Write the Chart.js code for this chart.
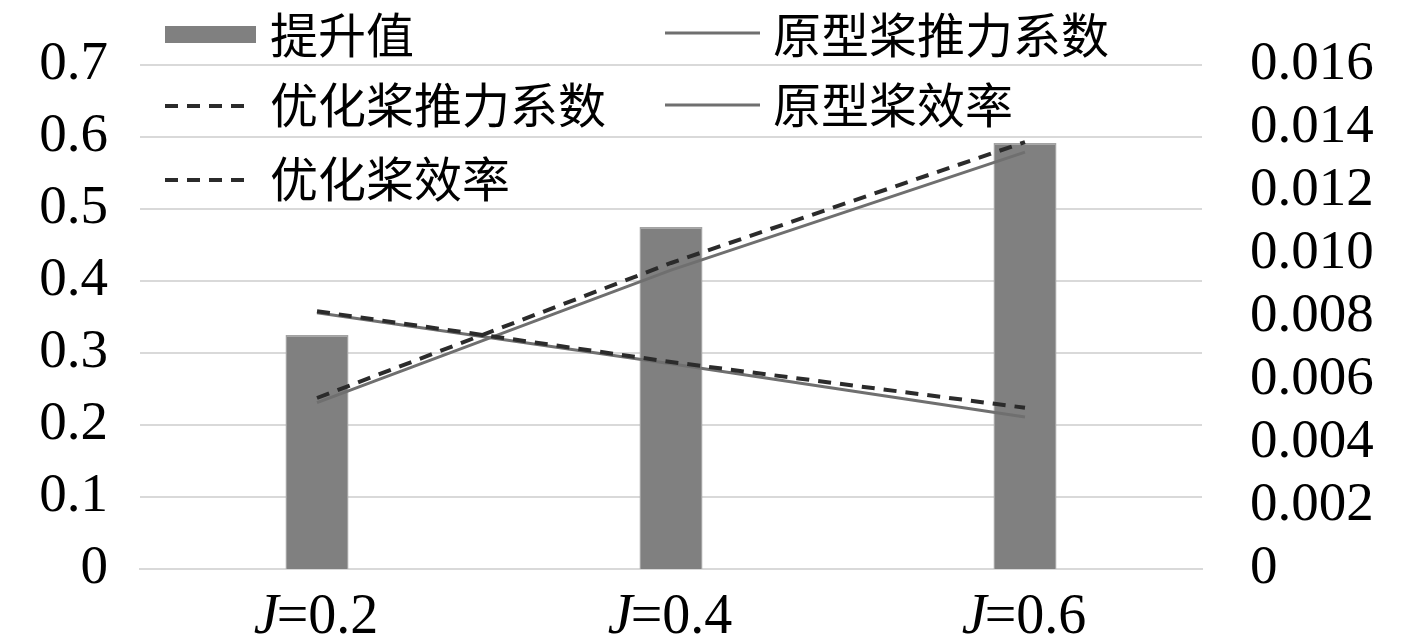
<!doctype html>
<html>
  <head>
    <meta charset="utf-8">
    <title>提升值与推力系数、效率</title>
    <style>
      html, body {
        margin: 0;
        background: #fff;
      }
    </style>
  </head>
  <body>
    <canvas id="canvas" width="1417" height="644"></canvas>

    <script src="https://cdn.jsdelivr.net/npm/chart.js@4/dist/chart.umd.min.js"></script>
    <script>
      // values
      var categories = ['0.2', '0.4', '0.6']   // J
      var improvement = [0.00743, 0.01086, 0.01352]   // right axis
      var protoThrust = [0.356, 0.285, 0.211]
      var optThrust = [0.358, 0.2875, 0.224]
      var protoEff = [0.231, 0.415, 0.579]
      var optEff = [0.2375, 0.425, 0.593]

      var leftTicks = [0, 0.1, 0.2, 0.3, 0.4, 0.5, 0.6, 0.7]
      var rightTicks = [0, 0.002, 0.004, 0.006, 0.008, 0.01, 0.012, 0.014, 0.016]

      var numFont = '"Liberation Serif", "Times New Roman", serif'
      var cjkFont = '"Noto Sans CJK SC", sans-serif'
      var solidGrey = '#6f6f6f'
      var dashDark = '#2b2b2b'
      var dash = [13, 9]

      // legend drawn by hand, Excel style, over the top of the plot
      var legendPlugin = {
        id: 'legendBoxes',
        afterDraw: function(chart) {
          var ctx = chart.ctx
          ctx.save()
          ctx.font = '48px ' + cjkFont
          ctx.fillStyle = '#000'
          ctx.textBaseline = 'middle'
          ctx.textAlign = 'left'

          // bar swatch
          ctx.fillStyle = '#808080'
          ctx.fillRect(165, 26, 91, 17)
          ctx.fillStyle = '#000'
          ctx.fillText('提升值', 270, 35)

          var line = function(x1, x2, y, color, width, pattern) {
            ctx.beginPath()
            ctx.setLineDash(pattern)
            ctx.strokeStyle = color
            ctx.lineWidth = width
            ctx.moveTo(x1, y)
            ctx.lineTo(x2, y)
            ctx.stroke()
          }
          line(665, 760, 33, solidGrey, 3, [])
          ctx.fillText('原型桨推力系数', 773, 35)
          line(165, 253, 106, dashDark, 4, dash)
          ctx.fillText('优化桨推力系数', 270, 105)
          line(665, 760, 105, solidGrey, 3, [])
          ctx.fillText('原型桨效率', 773, 105)
          line(165, 253, 180, dashDark, 4, dash)
          ctx.fillText('优化桨效率', 270, 179)
          ctx.restore()
        }
      }

      // x labels with an italic J
      var xLabelPlugin = {
        id: 'xLabels',
        afterDraw: function(chart) {
          var ctx = chart.ctx
          var xs = chart.scales.x
          ctx.save()
          ctx.fillStyle = '#000'
          ctx.textBaseline = 'alphabetic'
          ctx.textAlign = 'left'
          categories.forEach(function(c, i) {
            var cx = xs.getPixelForValue(i)
            ctx.font = 'italic 56px ' + numFont
            var wj = ctx.measureText('J').width
            ctx.font = '56px ' + numFont
            var rest = '=' + c
            var wr = ctx.measureText(rest).width
            var x0 = cx - (wj + wr) / 2
            ctx.font = 'italic 56px ' + numFont
            ctx.fillText('J', x0, 633)
            ctx.font = '56px ' + numFont
            ctx.fillText(rest, x0 + wj - 2, 633)
          })
          ctx.restore()
        }
      }

      // keep the label overhang from pushing the plot area around
      var noPad = function(scale, w) {
        scale.width = w
        scale.paddingTop = 0
        scale.paddingBottom = 0
      }

      var ctx = document.getElementById('canvas').getContext('2d')
      window.my_chart = new Chart(ctx, {
        type: 'bar',
        data: {
          labels: categories,
          datasets: [
            {
              type: 'line',
              label: '优化桨推力系数',
              data: optThrust,
              yAxisID: 'y',
              borderColor: dashDark,
              borderWidth: 4,
              borderDash: dash,
              pointRadius: 0,
              fill: false,
              order: 0
            },
            {
              type: 'line',
              label: '优化桨效率',
              data: optEff,
              yAxisID: 'y',
              borderColor: dashDark,
              borderWidth: 4,
              borderDash: dash,
              pointRadius: 0,
              fill: false,
              order: 0
            },
            {
              type: 'line',
              label: '原型桨推力系数',
              data: protoThrust,
              yAxisID: 'y',
              borderColor: solidGrey,
              borderWidth: 3,
              pointRadius: 0,
              fill: false,
              order: 1
            },
            {
              type: 'line',
              label: '原型桨效率',
              data: protoEff,
              yAxisID: 'y',
              borderColor: solidGrey,
              borderWidth: 3,
              pointRadius: 0,
              fill: false,
              order: 1
            },
            {
              label: '提升值',
              data: improvement,
              yAxisID: 'y1',
              backgroundColor: '#808080',
              borderColor: '#a3a3a3',
              borderWidth: 1.5,
              categoryPercentage: 1,
              barPercentage: 0.178,
              order: 2
            }
          ]
        },
        options: {
          responsive: false,
          animation: false,
          layout: {
            padding: { top: 65, left: 0, right: 0, bottom: 0 }
          },
          plugins: {
            legend: { display: false },
            tooltip: { enabled: false }
          },
          scales: {
            x: {
              offset: true,
              grid: { display: false, drawTicks: false },
              border: { display: true, color: '#d9d9d9', width: 2 },
              ticks: { display: false },
              afterFit: function(scale) { scale.height = 75 }
            },
            y: {
              position: 'left',
              min: 0,
              max: 0.7,
              afterBuildTicks: function(scale) {
                scale.ticks = leftTicks.map(function(v) { return { value: v } })
              },
              grid: { color: '#d9d9d9', lineWidth: 2, drawTicks: false },
              border: { display: false },
              ticks: {
                autoSkip: false,
                padding: 32,
                color: '#000',
                font: { family: numFont, size: 55 },
                callback: function(v) { return v === 0 ? '0' : v.toFixed(1) }
              },
              afterFit: function(scale) { noPad(scale, 140) }
            },
            y1: {
              position: 'right',
              min: 0,
              max: 0.016,
              afterBuildTicks: function(scale) {
                scale.ticks = rightTicks.map(function(v) { return { value: v } })
              },
              grid: { display: false, drawTicks: false },
              border: { display: false },
              ticks: {
                autoSkip: false,
                padding: 48,
                color: '#000',
                font: { family: numFont, size: 55 },
                callback: function(v) { return v === 0 ? '0' : v.toFixed(3) }
              },
              afterFit: function(scale) { noPad(scale, 215) }
            }
          }
        },
        plugins: [legendPlugin, xLabelPlugin]
      })
    </script>
  </body>
</html>
